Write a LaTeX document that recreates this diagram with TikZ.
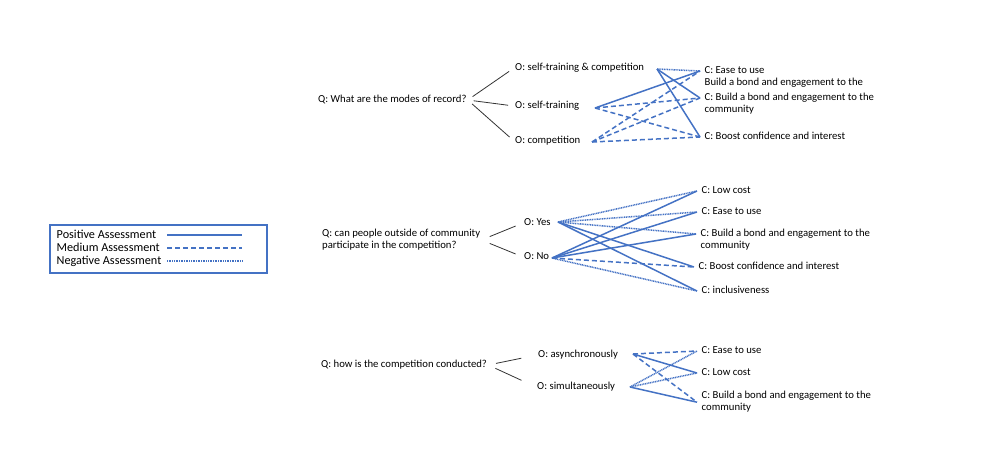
\documentclass[tikz,border=0pt]{standalone}
\usepackage{fontspec}
\setmainfont{Carlito}
\usetikzlibrary{positioning}
\definecolor{assblue}{RGB}{68,114,196}

\begin{document}
\begin{tikzpicture}[x=1pt,y=-1pt,
  every node/.style={font=\fontsize{10.7}{12}\selectfont,inner sep=1pt,text height=7.5pt,text depth=2.5pt},
  txt/.style={anchor=west},
  crit/.style={anchor=west,inner xsep=4.5pt},
  legtxt/.style={anchor=west,font=\fontsize{12.2}{13}\selectfont,text height=8.5pt,text depth=2.5pt,inner sep=0.5pt},
  qline/.style={draw=black!80,line width=0.8pt},
  posline/.style={draw=assblue,line width=1.5pt},
  medline/.style={draw=assblue,line width=1.5pt,dash pattern=on 5pt off 3pt},
  negline/.style={draw=assblue,line width=1.5pt,dash pattern=on 1pt off 0.7pt}]
  \useasboundingbox (0,0) rectangle (993,448);

  % Legend
  \draw[assblue,line width=1.4pt] (50,225) rectangle (267,273);
  \node[legtxt] (l1) at (56,235) {Positive Assessment};
  \node[legtxt] (l2) at (56,248) {Medium Assessment};
  \node[legtxt] (l3) at (56,261) {Negative Assessment};
  \draw[posline] (167,0 |- l1) -- (242,0 |- l1);
  \draw[medline] (167,0 |- l2) -- (242,0 |- l2);
  \draw[negline] (167,0 |- l3) -- (242,0 |- l3);

  % Question 1: modes of record
  \node[txt] (q1) at (317,100) {Q: What are the modes of record?};
  \node[txt] (o1) at (514,68) {O: self-training \& competition};
  \node[txt] (o2) at (514,106) {O: self-training};
  \node[txt] (o3) at (514,141) {O: competition};
  \node[crit] (c1) at (700,71) {C: Ease to use};
  \node[crit] (c0) at (700,83) {Build a bond and engagement to the};
  \node[crit] (c2) at (700,98) {C: Build a bond and engagement to the};
  \node[crit,anchor=north west] at (c2.south west) {community};
  \node[crit] (c3) at (700,137) {C: Boost confidence and interest};
  \coordinate (o1r) at (657,69);
  \coordinate (o2r) at (595,108);
  \coordinate (o3r) at (592,142);

  % Question 2: participation from outside
  \node[txt,align=left,text height=,text depth=] (q2) at (321,240)
    {Q: can people outside of community\\participate in the competition?};
  \node[txt] (o4) at (523,223) {O: Yes};
  \node[txt] (o5) at (523,257) {O: No};
  \node[crit] (m1) at (697,191) {C: Low cost};
  \node[crit] (m2) at (697,212) {C: Ease to use};
  \node[crit] (m3) at (696,234) {C: Build a bond and engagement to the};
  \node[crit,anchor=north west] at (m3.south west) {community};
  \node[crit] (m4) at (694,267) {C: Boost confidence and interest};
  \node[crit] (m5) at (697,291) {C: inclusiveness};
  \coordinate (o4r) at (558,222);
  \coordinate (o5r) at (552,258);

  % Question 3: how the competition is run
  \node[txt] (q3) at (320,365) {Q: how is the competition conducted?};
  \node[txt] (o6) at (537,355) {O: asynchronously};
  \node[txt] (o7) at (536,387) {O: simultaneously};
  \node[crit] (b1) at (697,351) {C: Ease to use};
  \node[crit] (b2) at (697,373) {C: Low cost};
  \node[crit] (b3) at (697,396) {C: Build a bond and engagement to the};
  \node[crit,anchor=north west] at (b3.south west) {community};
  \coordinate (o6r) at (633,354);
  \coordinate (o7r) at (630,387);

  % Question to option branches
  \foreach \to in {o1,o2,o3}
    \draw[qline,shorten <=6pt,shorten >=6pt] (q1.east) -- (\to.west);
  \foreach \to in {o4,o5}
    \draw[qline,shorten <=9pt,shorten >=8pt] (q2.east) -- (\to.west);
  \foreach \to in {o6,o7}
    \draw[qline,shorten <=8pt,shorten >=16pt] (q3.east) -- (\to.west);

  % Option to criterion assessments
  \foreach \from/\to in {o1r/c2.west,o1r/c3.west,o2r/c1.west,
                         o4r/m4.west,o4r/m5.west,o5r/m1.west,o5r/m2.west,o5r/m3.west,
                         o6r/b2.west,o7r/b3.south west}
    \draw[posline] (\from) -- (\to);
  \foreach \from/\to in {o2r/c2.west,o2r/c3.west,o3r/c1.west,o3r/c2.west,o3r/c3.west,
                         o5r/m4.west,
                         o6r/b1.west,o6r/b3.south west}
    \draw[medline] (\from) -- (\to);
  \foreach \from/\to in {o1r/c1.west,
                         o4r/m1.west,o4r/m2.west,o4r/m3.west,o5r/m5.west,
                         o7r/b1.west,o7r/b2.west}
    \draw[negline] (\from) -- (\to);
\end{tikzpicture}
\end{document}
